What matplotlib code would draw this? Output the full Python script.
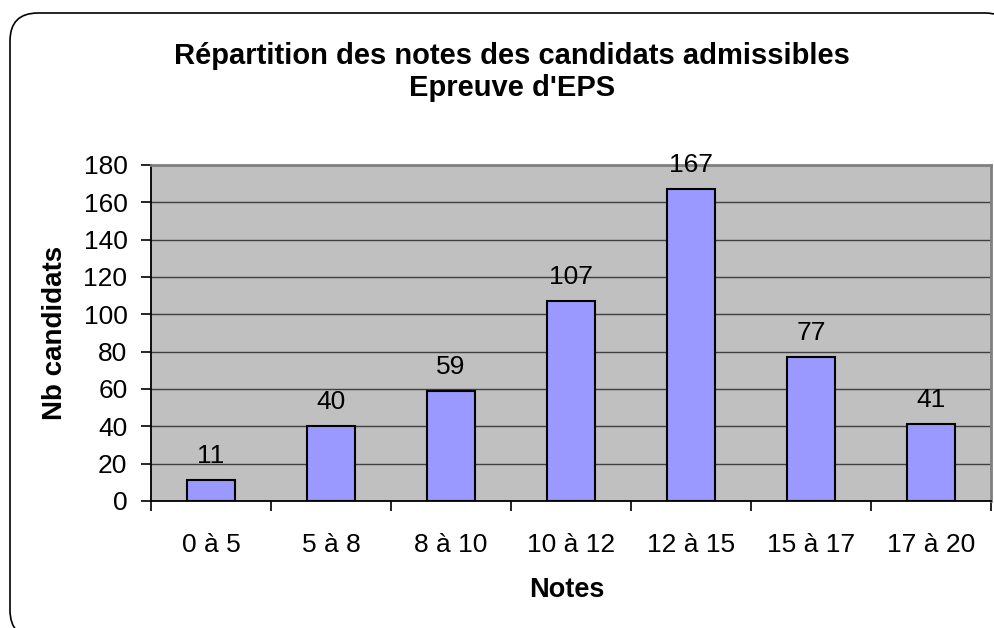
import matplotlib
matplotlib.use('Agg')
import matplotlib.pyplot as plt
from matplotlib.patches import FancyBboxPatch

plt.rcParams['font.family'] = ['Liberation Sans', 'DejaVu Sans']

# tranches de notes et effectifs
tranches = ['0 à 5', '5 à 8', '8 à 10', '10 à 12', '12 à 15', '15 à 17', '17 à 20']
effectifs = [11, 40, 59, 107, 167, 77, 41]

W, H = 994, 628
fig = plt.figure(figsize=(W / 100, H / 100), dpi=100)

# cadre arrondi du graphique, en pouces (coins droit et bas hors image)
cadre = FancyBboxPatch((0.10, -0.10), 10.13 - 0.10, 6.15 + 0.10,
                       boxstyle='round,pad=0,rounding_size=0.28',
                       transform=fig.dpi_scale_trans, facecolor='white',
                       edgecolor='black', linewidth=1.2, zorder=-1)
fig.patches.append(cadre)

ax = fig.add_axes([151 / W, (H - 501) / H, 840 / W, 336 / H])
ax.set_facecolor('#C0C0C0')

x = list(range(len(tranches)))
ax.bar(x, effectifs, width=0.4, color='#9999FF', edgecolor='black', linewidth=1.5, zorder=3)
for xi, v in zip(x, effectifs):
    ax.text(xi, v + 6.5, str(v), ha='center', va='bottom', fontsize=19)

ax.set_xlim(-0.5, len(tranches) - 0.5)
ax.set_ylim(0, 180)
ax.set_yticks(range(0, 181, 20))
ax.yaxis.grid(True, color='#404040', linewidth=1.0, zorder=1)
ax.set_axisbelow(True)

ax.set_xticks(x)
ax.set_xticklabels(tranches, fontsize=19)
ax.set_xticks([i - 0.5 for i in range(len(tranches) + 1)], minor=True)
ax.tick_params(axis='x', which='major', length=0, pad=23)
ax.tick_params(axis='x', which='minor', length=7, width=1.2, direction='out')
ax.tick_params(axis='y', labelsize=19, length=7, width=1.2, direction='out', pad=10)

for s in ['top', 'right']:
    ax.spines[s].set_color('#808080')
    ax.spines[s].set_linewidth(2)
for s in ['left', 'bottom']:
    ax.spines[s].set_color('black')
    ax.spines[s].set_linewidth(1.3)

ax.set_xlabel('Notes', fontsize=19.5, fontweight='bold')
ax.xaxis.set_label_coords((567 - 151) / 840, -(590 - 501) / 336)
ax.set_ylabel('Nb candidats', fontsize=20, fontweight='bold')
ax.yaxis.set_label_coords(-(151 - 55) / 840, (501 - 333) / 336)
ax.xaxis.label.set_verticalalignment('center')
ax.yaxis.label.set_verticalalignment('center')

fig.text(512 / W, 1 - 64 / H, "Répartition des notes des candidats admissibles",
         ha='center', va='baseline', fontsize=21, fontweight='bold')
fig.text(512 / W, 1 - 96 / H, "Epreuve d'EPS",
         ha='center', va='baseline', fontsize=21, fontweight='bold')

fig.savefig('out.png', dpi=100)
